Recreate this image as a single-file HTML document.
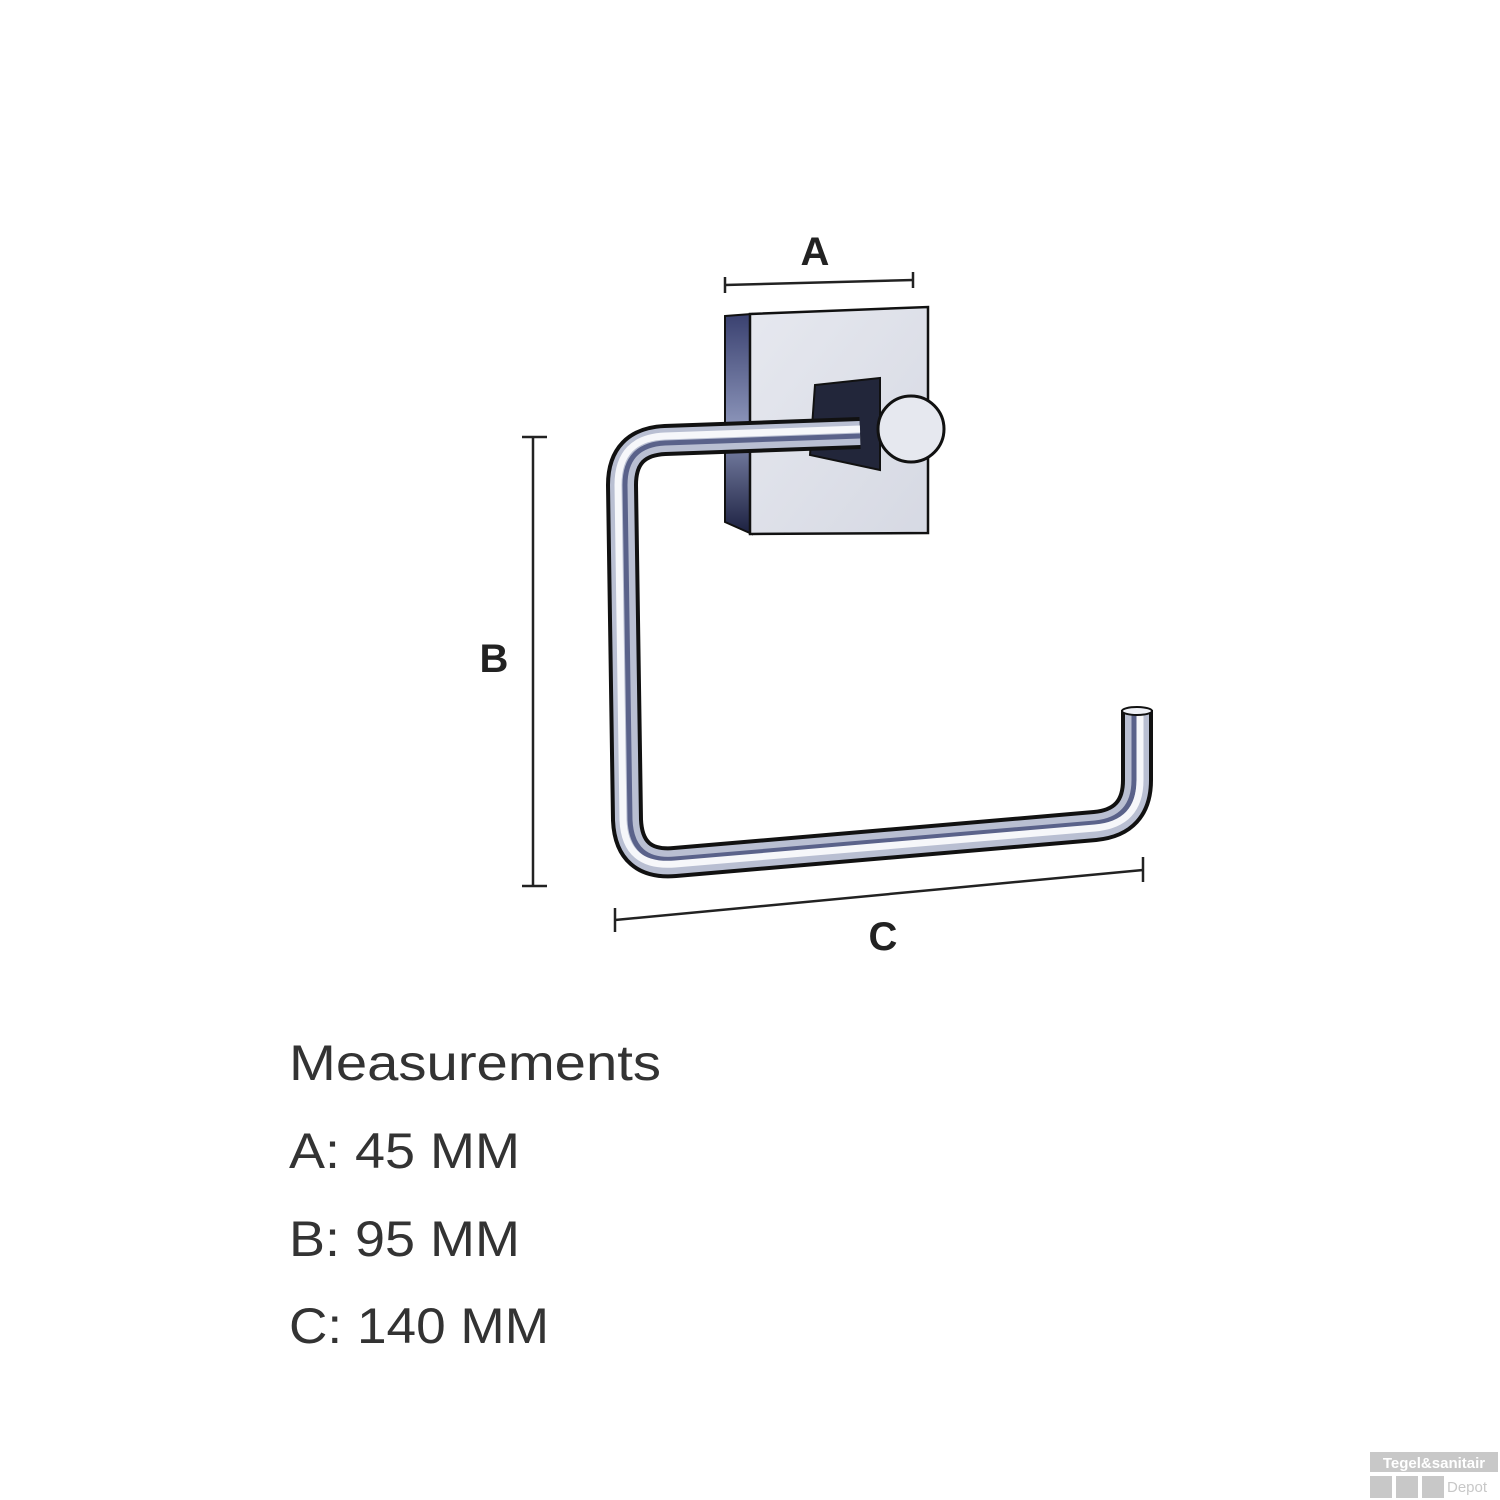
<!DOCTYPE html>
<html><head><meta charset="utf-8"><style>
html,body{margin:0;padding:0;background:#fff;}
svg{display:block;}
</style></head><body>
<svg width="1500" height="1500" viewBox="0 0 1500 1500" xmlns="http://www.w3.org/2000/svg">
<defs>
<linearGradient id="face" x1="0" y1="0" x2="1" y2="1">
<stop offset="0" stop-color="#e6e8ef"/><stop offset="1" stop-color="#d6d9e3"/></linearGradient>
<linearGradient id="side" x1="0" y1="0" x2="0" y2="1">
<stop offset="0" stop-color="#3a4170"/><stop offset="0.5" stop-color="#8a93b8"/><stop offset="1" stop-color="#1c2040"/></linearGradient>
</defs>
<g stroke="#222" stroke-width="2.5" fill="none">
<line x1="725" y1="285" x2="913" y2="280"/>
<line x1="725" y1="277" x2="725" y2="293"/>
<line x1="913" y1="272" x2="913" y2="288"/>
<line x1="533" y1="437" x2="533" y2="886"/>
<line x1="522" y1="437" x2="547" y2="437"/>
<line x1="522" y1="886" x2="547" y2="886"/>
<line x1="615" y1="920" x2="1143" y2="870"/>
<line x1="615" y1="908" x2="615" y2="932"/>
<line x1="1143" y1="857" x2="1143" y2="882"/>
</g>
<g font-family="Liberation Sans, sans-serif" font-weight="bold" font-size="40" fill="#222" text-anchor="middle">
<text x="815" y="265">A</text>
<text x="494" y="672">B</text>
<text x="883" y="950">C</text>
</g>
<polygon points="725,316 752,314 752,534 725,522" fill="url(#side)" stroke="#111" stroke-width="2"/>
<polygon points="750,314 928,307 928,533 750,534" fill="url(#face)" stroke="#111" stroke-width="2.5"/>
<polygon points="815,385 880,378 880,470 810,455" fill="#22263a" stroke="#111" stroke-width="2"/>
<path d="M860,433 L665,440 Q622,442 622,485 L627,820 Q629,866 675,862 L1095,826 Q1137,822 1137,780 L1137,710" fill="none" stroke="#111" stroke-width="32" stroke-linejoin="round"/>
<path d="M860,433 L665,440 Q622,442 622,485 L627,820 Q629,866 675,862 L1095,826 Q1137,822 1137,780 L1137,710" fill="none" stroke="#b9bfd2" stroke-width="24" stroke-linejoin="round"/>
<path d="M860,436 L665,443 Q625,445 625,485 L630,820 Q632,863 675,859 L1095,823 Q1134,819 1134,780 L1134,712" fill="none" stroke="#5a628a" stroke-width="5" stroke-linejoin="round"/>
<path d="M860,429 L665,436 Q618,438 618,485 L623,820 Q625,868 675,864 L1095,828 Q1140,824 1140,780 L1140,712" fill="none" stroke="#f6f7fa" stroke-width="7" stroke-linejoin="round"/>
<ellipse cx="1137" cy="711" rx="15" ry="4" fill="#eef0f6" stroke="#111" stroke-width="2"/>
<circle cx="911" cy="429" r="33" fill="#e6e8ef" stroke="#111" stroke-width="3"/>
<g font-family="Liberation Sans, sans-serif" font-size="50" fill="#333">
<text x="289" y="1080" textLength="372" lengthAdjust="spacingAndGlyphs">Measurements</text>
<text x="289" y="1168" textLength="231" lengthAdjust="spacingAndGlyphs">A: 45 MM</text>
<text x="289" y="1256" textLength="231" lengthAdjust="spacingAndGlyphs">B: 95 MM</text>
<text x="289" y="1343" textLength="260" lengthAdjust="spacingAndGlyphs">C: 140 MM</text>
</g>
<rect x="1370" y="1452" width="128" height="20" fill="#c8c8c8"/>
<text x="1434" y="1468" font-family="Liberation Sans, sans-serif" font-weight="bold" font-size="15" fill="#fff" text-anchor="middle">Tegel&amp;sanitair</text>
<rect x="1370" y="1476" width="22" height="22" fill="#c8c8c8"/>
<rect x="1396" y="1476" width="22" height="22" fill="#c8c8c8"/>
<rect x="1422" y="1476" width="22" height="22" fill="#c8c8c8"/>
<text x="1447" y="1492" font-family="Liberation Sans, sans-serif" font-size="15" fill="#c8c8c8">Depot</text>
</svg>
</body></html>
